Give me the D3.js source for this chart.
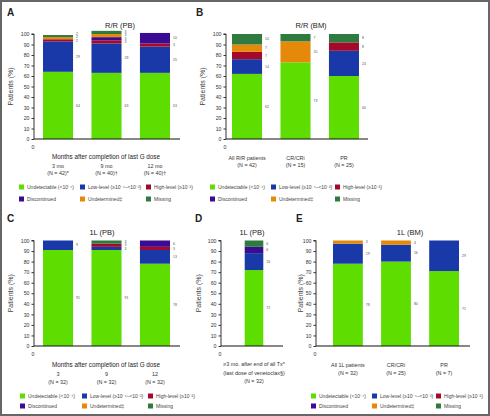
<!DOCTYPE html>
<html><head><meta charset="utf-8">
<script src="https://cdn.jsdelivr.net/npm/d3@7"></script>
<style>
body{margin:0;background:#fff;}
text{font-family:"Liberation Sans",Arial,sans-serif;fill:#222;}
.narrow{font-family:"Liberation Sans Narrow","Liberation Sans",sans-serif;}
</style></head>
<body><svg id="c" width="490" height="416"></svg>
<script>
// ---------- data ----------
const levels = ["Undetectable","Low-level","High-level","Discontinued","Undetermined","Missing"];
const legendLabels = ["Undetectable (<10\u207B\u2074)","Low-level (\u226510\u207B\u2074\u2013<10\u207B\u00B2)","High-level (\u226510\u207B\u00B2)","Discontinued","Undetermined\u2021","Missing"];
const yTicks = [0,10,20,30,40,50,60,70,80,90,100];

// Panel A: R/R (PB)
const aGroups = ["3 mo","9 mo","12 mo"];
const aN = ["(N = 42)*","(N = 40)\u2020","(N = 40)\u2020"];
const aUndetectable = [64,63,63];
const aLow = [29,28,25];
const aHigh = [2,3,3];
const aDisc = [0,3,10];
const aUndet = [2,3,0];
const aMissing = [2,3,0];

// Panel B: R/R (BM)
const bGroups = ["All R/R patients","CR/CRi","PR"];
const bN = ["(N = 42)","(N = 15)","(N = 25)"];
const bUndetectable = [62,73,60];
const bLow = [14,0,24];
const bHigh = [7,0,8];
const bDisc = [0,0,0];
const bUndet = [7,20,0];
const bMissing = [10,7,8];

// Panel C: 1L (PB)
const cGroups = ["3","9","12"];
const cN = ["(N = 32)","(N = 32)","(N = 32)"];
const cUndetectable = [91,91,78];
const cLow = [9,3,13];
const cHigh = [0,3,3];
const cDisc = [0,0,6];
const cUndet = [0,0,0];
const cMissing = [0,3,0];

// Panel D: 1L (PB)
const dGroups = ["\u22653 mo. after end of all Tx*"];
const dSub = ["(last dose of venetoclax\u00A7)","(N = 32)"];
const dUndetectable = [72];
const dLow = [16];
const dHigh = [0];
const dDisc = [6];
const dUndet = [0];
const dMissing = [6];

// Panel E: 1L (BM)
const eGroups = ["All 1L patients","CR/CRi","PR"];
const eN = ["(N = 32)","(N = 25)","(N = 7)"];
const eUndetectable = [78,80,71];
const eLow = [19,16,29];
const eHigh = [0,0,0];
const eDisc = [0,0,0];
const eUndet = [3,4,0];
const eMissing = [0,0,0];

// ---------- drawing ----------
const colors = ["#5ddd00","#1939a8","#a5092a","#3a0b93","#e5890a","#2f7a3f"];
const svg = d3.select("#c");
svg.append("rect").attr("x",1).attr("y",1).attr("width",488).attr("height",414)
  .attr("fill","none").attr("stroke","#666").attr("stroke-width",2);

function rows(groups, series){
  return groups.map((g,i)=>{const r={g}; levels.forEach((l,k)=>r[l]=series[k][i]); return r;});
}

function panel(o){
  const g = svg.append("g");
  const y = d3.scaleLinear().domain([0,100]).range([o.y0,o.y100]);
  const x = d3.scaleBand().domain(o.groups).range([o.bL,o.bR]).paddingInner(o.pad||0.38);
  g.append("text").attr("x",o.lx).attr("y",o.ly).style("font-weight","bold").style("font-size","10px").text(o.letter);
  g.append("text").attr("x",o.tx).attr("y",o.ty).attr("text-anchor","middle").style("font-size","7.5px").text(o.title);
  const data = rows(o.groups,o.series);
  const stack = d3.stack().keys(levels)(data);
  o.groups.forEach((gr,i)=>{
    let prevY = Infinity;
    stack.forEach((s,k)=>{
      const d = s[i];
      const v = d[1]-d[0];
      if(v<=0) return;
      g.append("rect").attr("x",x(gr)).attr("width",x.bandwidth())
        .attr("y",y(d[1])).attr("height",y(d[0])-y(d[1])).attr("fill",colors[k]);
      let ly = (y(d[0])+y(d[1]))/2+1.2;
      if(ly > prevY-3.4) ly = prevY-3.4;
      prevY = ly;
      g.append("text").attr("x",x(gr)+x.bandwidth()+3).attr("y",ly)
        .style("font-size","3.5px").style("fill","#555").text(v);
    });
  });
  const ax = g.append("g").attr("transform",`translate(${o.ax},0)`)
    .call(d3.axisLeft(y).tickValues(yTicks).tickSize(2.5).tickPadding(2));
  ax.selectAll("text").style("font-size","5.2px").style("fill","#333");
  ax.selectAll("line").attr("stroke","#333");
  ax.select(".domain").attr("stroke","#333").attr("d",`M-2.5,${o.y100}H0V${o.y0}`);
  g.append("line").attr("x1",o.ax).attr("x2",o.axEnd).attr("y1",o.y0).attr("y2",o.y0).attr("stroke","#111").attr("stroke-width",1);
  g.append("text").attr("x",o.ax-1).attr("y",o.y0+10).attr("text-anchor","middle").style("font-size","5.2px").style("fill","#333").text("0");
  g.append("text").attr("transform",`translate(${o.ylx},${(o.y0+o.y100)/2}) rotate(-90)`).attr("text-anchor","middle")
    .attr("class","narrow").style("font-size","7px").style("fill","#444").text("Patients (%)");
  if(o.xTitle){
    g.append("text").attr("x",o.xtx).attr("y",o.xty).attr("text-anchor","middle").attr("class","narrow")
      .style("font-size","7.3px").attr("textLength",108).attr("lengthAdjust","spacingAndGlyphs").text(o.xTitle);
  }
  o.groups.forEach((gr,i)=>{
    const cx = o.labelX ? o.labelX : x(gr)+x.bandwidth()/2;
    g.append("text").attr("x",cx).attr("y",o.l1y).attr("text-anchor","middle").style("font-size","5.4px").style("fill","#333").text(gr);
    if(o.Ns) g.append("text").attr("x",cx).attr("y",o.l2y).attr("text-anchor","middle").style("font-size","5.4px").style("fill","#333").text(o.Ns[i]);
  });
  if(o.sub){
    o.sub.forEach((s,i)=>g.append("text").attr("x",o.labelX).attr("y",o.l2y+i*8).attr("text-anchor","middle").style("font-size","5.4px").style("fill","#333").text(s));
  }
  if(o.legX){
    levels.forEach((l,k)=>{
      const col=k%3,row=Math.floor(k/3);
      const lx=o.legX[col], ly=o.legY[row];
      g.append("rect").attr("x",lx).attr("y",ly-2.5).attr("width",5).attr("height",5).attr("fill",colors[k]);
      g.append("text").attr("x",lx+8).attr("y",ly+1.7).attr("class","narrow").style("font-size","5px").style("fill","#444").text(legendLabels[k]);
    });
  }
}

panel({letter:"A",lx:7,ly:16,title:"R/R (PB)",tx:120,ty:28,groups:aGroups,Ns:aN,
  series:[aUndetectable,aLow,aHigh,aDisc,aUndet,aMissing],
  y0:139,y100:34,bL:43,bR:170,ax:34,axEnd:180,ylx:13,
  xTitle:"Months after completion of last G dose",xtx:106,xty:159,l1y:168,l2y:175,
  legX:[19,80,146],legY:[187,199]});

panel({letter:"B",lx:196,ly:16,title:"R/R (BM)",tx:311,ty:28,groups:bGroups,Ns:bN,
  series:[bUndetectable,bLow,bHigh,bDisc,bUndet,bMissing],
  y0:139,y100:34,bL:232,bR:359,ax:226,axEnd:368,ylx:205,
  l1y:159.5,l2y:166.5,legX:[210,271,335],legY:[187,199]});

panel({letter:"C",lx:7,ly:222,title:"1L (PB)",tx:102,ty:235,groups:cGroups,Ns:cN,
  series:[cUndetectable,cLow,cHigh,cDisc,cUndet,cMissing],
  y0:346,y100:240.5,bL:43,bR:170,ax:34,axEnd:180,ylx:13,
  xTitle:"Months after completion of last G dose",xtx:106,xty:367,l1y:376,l2y:384,
  legX:[20,82,148],legY:[396,406]});

panel({letter:"D",lx:195,ly:222,title:"1L (PB)",tx:252,ty:235,groups:dGroups,sub:dSub,labelX:254,
  series:[dUndetectable,dLow,dHigh,dDisc,dUndet,dMissing],
  y0:346,y100:240.5,bL:239,bR:269,pad:0,ax:221,axEnd:283,ylx:201,
  l1y:366,l2y:374.5});

panel({letter:"E",lx:296,ly:222,title:"1L (BM)",tx:410,ty:235,groups:eGroups,Ns:eN,
  series:[eUndetectable,eLow,eHigh,eDisc,eUndet,eMissing],
  y0:346,y100:240.5,bL:333,bR:459,ax:316,axEnd:470,ylx:303,
  l1y:367,l2y:374.5,legX:[311,372,436],legY:[396,406]});
</script></body></html>
